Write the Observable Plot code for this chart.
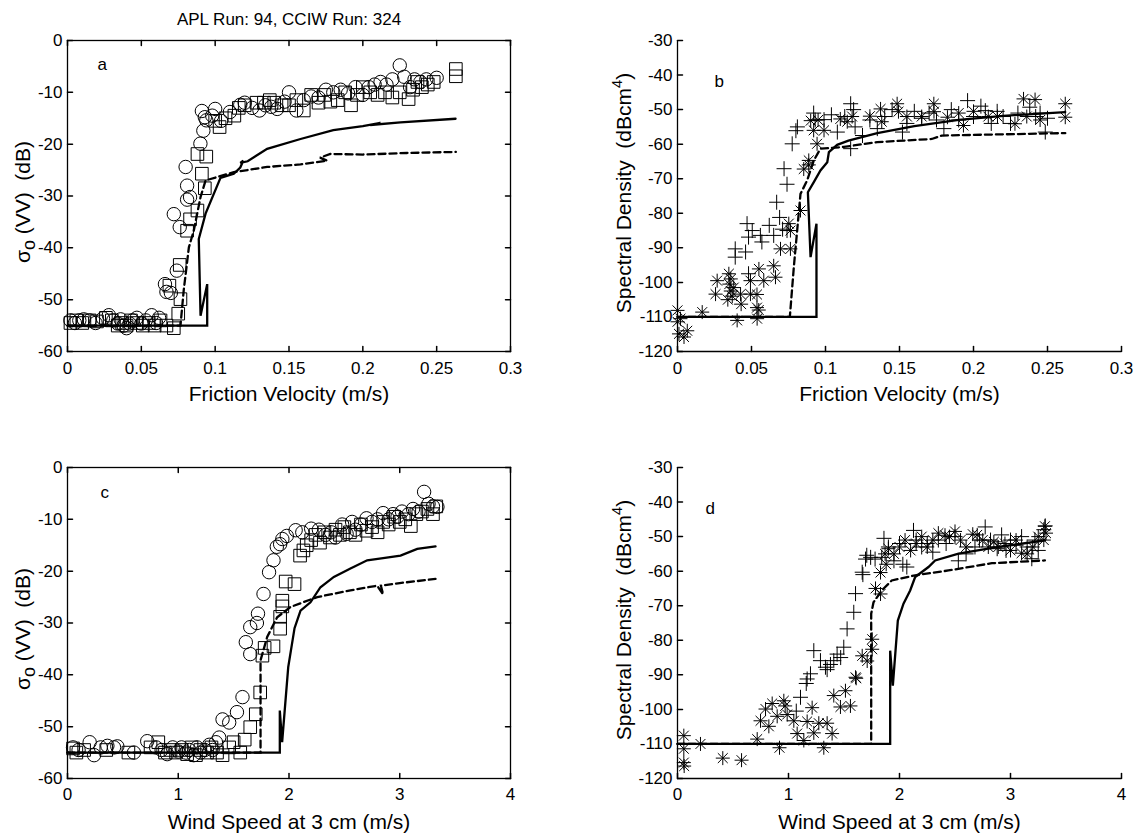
<!DOCTYPE html>
<html><head><meta charset="utf-8">
<script src="https://cdn.jsdelivr.net/npm/d3@7"></script>
<script src="https://cdn.jsdelivr.net/npm/@observablehq/plot@0.6"></script>
<style>
html,body{margin:0;padding:0;background:#fff;}
#wrap{position:relative;width:1148px;height:837px;overflow:hidden;background:#fff;}
#wrap svg{position:absolute;}
</style></head><body><div id="wrap"></div>
<script>
// ---------------- DATA ----------------
const titleText = "APL Run: 94, CCIW Run: 324";
const uTicks = [0, 0.05, 0.1, 0.15, 0.2, 0.25, 0.3];
const windTicks = [0, 1, 2, 3, 4];
const sigmaTicks = [-60, -50, -40, -30, -20, -10, 0];
const specTicks = [-120, -110, -100, -90, -80, -70, -60, -50, -40, -30];
const xLabelU = "Friction Velocity (m/s)";
const xLabelW = "Wind Speed at 3 cm (m/s)";
const yLabelSigma = "σo (VV)  (dB)";
const yLabelSpec = "Spectral Density  (dBcm4)";
const letters = ["a", "b", "c", "d"];
const letterX = [0.0203, 0.025, 0.298, 0.252];
const letterY = [-4.7, -42.0, -4.9, -42.0];

// panel a: sigma vs friction velocity
const aCircles = [[0.002,-54],[0.005,-54.5],[0.008,-54],[0.011,-53.8],[0.015,-54],[0.019,-54.5],[0.024,-53.6],[0.028,-53],[0.031,-54],[0.034,-54.6],[0.036,-53.8],[0.038,-55],[0.04,-55.5],[0.042,-54.6],[0.044,-54],[0.047,-53.5],[0.05,-54.6],[0.053,-54],[0.057,-53],[0.06,-54.5],[0.062,-53.5],
[0.066,-47],[0.067,-48.5],[0.07,-48.7],[0.074,-44.4],[0.072,-33.5],[0.076,-36],[0.08,-24.4],[0.081,-28],[0.081,-30.7],[0.083,-30.2],[0.09,-19.9],[0.092,-17.4],[0.093,-14.8],[0.091,-13.6],[0.094,-15.4],[0.1,-13.2],[0.098,-14.5],[0.104,-15.5],[0.11,-13.8],[0.117,-12.4],[0.12,-12],[0.125,-13],[0.13,-13.5],[0.134,-12.5],[0.138,-12.8],[0.142,-13.2],[0.147,-11.8],[0.15,-10],[0.155,-13.5],[0.16,-11.5],[0.165,-10.8],[0.17,-11],[0.175,-9.5],[0.18,-10],[0.185,-9.5],[0.19,-10.2],[0.195,-9],[0.2,-10.5],[0.204,-9],[0.208,-8.5],[0.212,-8],[0.216,-8.5],[0.22,-7.5],[0.225,-4.8],[0.228,-7],[0.232,-9],[0.235,-7.5],[0.239,-8],[0.243,-7.5],[0.25,-7.2]];
const aSquares = [[0.002,-54.5],[0.006,-54],[0.01,-54.5],[0.015,-54],[0.02,-54.2],[0.026,-53.5],[0.03,-54],[0.034,-55],[0.037,-54.5],[0.04,-55],[0.043,-54],[0.047,-54.5],[0.051,-55],[0.055,-54.5],[0.059,-55],[0.063,-54],[0.067,-55],[0.072,-55.5],
[0.069,-47.3],[0.075,-52.7],[0.0765,-49.9],[0.076,-43.3],[0.081,-36.7],[0.083,-34.5],[0.088,-32.8],[0.093,-28.5],[0.091,-25.7],[0.088,-21.9],[0.094,-22.4],[0.103,-16.7],[0.1,-15.5],[0.107,-15],
[0.113,-14.5],[0.116,-13],[0.12,-12.5],[0.128,-12],[0.133,-12],[0.137,-11.5],[0.14,-12],[0.145,-12.5],[0.15,-12.5],[0.155,-11.5],[0.16,-13.5],[0.165,-10.5],[0.17,-12],[0.174,-10.5],[0.178,-11.8],[0.183,-11.5],[0.188,-10],[0.192,-12.5],[0.196,-10.5],[0.2,-9],[0.205,-10],[0.21,-10.5],[0.215,-10],[0.22,-11],[0.225,-10],[0.231,-11.3],[0.234,-9.5],[0.237,-8],[0.24,-9],[0.244,-8.5],[0.248,-8],[0.263,-6.9],[0.263,-5.5]];
const aSolid = [[0,-55],[0.0946,-55],[0.0946,-47],[0.0901,-53.1],[0.0889,-38.3],[0.0935,-33.4],[0.1014,-28],[0.1036,-26.5],[0.1126,-25.7],[0.117,-24.5],[0.119,-23.2],[0.117,-23.6],[0.122,-23.3],[0.1352,-20.9],[0.1578,-19],[0.18,-17.3],[0.2,-16.5],[0.212,-15.9],[0.205,-16.3],[0.2255,-15.8],[0.2628,-15.1]];
const aDashed = [[0,-55],[0.0765,-55],[0.0787,-48.2],[0.0822,-39.9],[0.0855,-36.7],[0.0901,-30.2],[0.0935,-27],[0.1126,-25.4],[0.1352,-24.4],[0.1578,-23.9],[0.1758,-23.2],[0.171,-22.6],[0.178,-21.9],[0.2,-22],[0.23,-21.7],[0.263,-21.5]];

// panel b: spectral density vs friction velocity
const bPluses = [[0.039,-90.3],[0.039,-92.7],[0.046,-91.2],[0.047,-83],[0.048,-86.9],[0.0505,-85],[0.048,-97.5],[0.056,-86.4],[0.057,-88.3],[0.062,-83.5],[0.065,-86.4],[0.067,-76.8],[0.069,-81.2],[0.071,-84.6],[0.074,-85],[0.072,-67.1],[0.074,-71.6],[0.0775,-59.9],[0.08,-56.1],[0.081,-55],[0.092,-51],[0.093,-53],[0.099,-52.9],[0.104,-51.5],[0.108,-56.5],[0.113,-52],[0.117,-48.3],[0.119,-50],[0.117,-61.3],[0.12,-55],[0.125,-57.5],[0.13,-53],[0.135,-55.5],[0.14,-52],[0.145,-50],[0.152,-56.5],[0.155,-54],[0.16,-50.5],[0.165,-52.5],[0.17,-51],[0.175,-53],[0.18,-55.5],[0.185,-50],[0.19,-53],[0.196,-47.4],[0.2,-52],[0.205,-49],[0.208,-50.3],[0.212,-54],[0.216,-50.5],[0.22,-52],[0.225,-54],[0.23,-51],[0.238,-49.3],[0.242,-52],[0.2485,-56.5],[0.25,-52.5],[0.245,-51]];
const bStars = [[0,-108.1],[0,-111.4],[0.001,-114.9],[0.002,-110.5],[0.0044,-115.8],[0.0066,-114],[0.0167,-108.6],[0.0403,-111],[0.0538,-110.5],[0.0549,-108],
[0.0268,-99.5],[0.0257,-103.4],[0.0347,-97.5],[0.035,-100.5],[0.036,-102.5],[0.037,-104],[0.034,-105],[0.036,-99],[0.038,-101.5],[0.0426,-103.4],[0.043,-106.3],[0.0493,-99.5],[0.0493,-103.4],[0.0537,-103.5],[0.055,-96.1],[0.0583,-99.5],[0.0537,-107.3],[0.065,-95.2],[0.0662,-98.5],[0.0696,-90.3],[0.0763,-90.3],[0.0752,-83],[0.0763,-85],[0.0831,-79.2],[0.0853,-67.2],[0.0887,-64.7],[0.0887,-66],[0.0943,-59.9],[0.092,-56],[0.09,-53.2],[0.095,-53],[0.099,-56],
[0.11,-52.7],[0.1147,-53.5],[0.118,-52],[0.13,-51.9],[0.1372,-49.8],[0.1484,-48.3],[0.1493,-50.6],[0.155,-52],[0.138,-53.5],[0.165,-52],[0.1732,-48.3],[0.1733,-50.6],[0.1824,-52.2],[0.19,-51],[0.1932,-54.6],[0.2,-50.5],[0.21,-52],[0.2162,-52],[0.228,-54.1],[0.2338,-46.9],[0.2416,-47.1],[0.236,-52],[0.245,-53],[0.262,-48.3],[0.262,-52.2]];
const bSolid = [[0,-110],[0.0939,-110],[0.0939,-83],[0.0899,-92.7],[0.0881,-73.9],[0.0921,-71],[0.0966,-67.6],[0.1012,-65.2],[0.1023,-62.3],[0.1079,-60.2],[0.1155,-59],[0.135,-56.8],[0.16,-54.8],[0.19,-53],[0.22,-51.8],[0.262,-50.7]];
const bDashed = [[0,-110],[0.0759,-110],[0.0786,-95.6],[0.0831,-74.4],[0.0876,-70.5],[0.0921,-64.7],[0.0966,-61.3],[0.1124,-60.8],[0.1349,-59.4],[0.1718,-58.5],[0.1786,-57.5],[0.262,-56.8]];

// panel c: sigma vs wind speed
const cCircles = [[0.05,-54],[0.1,-54.5],[0.2,-53],[0.24,-55.5],[0.3,-54],[0.36,-53.7],[0.42,-54],[0.45,-53.8],[0.6,-55],[0.72,-52.8],[0.8,-54],[0.85,-54.5],[0.9,-55.3],[0.95,-54],[1.0,-54.8],[1.03,-54],[1.07,-55],[1.1,-54.5],[1.14,-55.5],[1.17,-54],[1.2,-55],[1.24,-54.5],[1.28,-53.5],[1.31,-54.5],[1.34,-53],
[1.37,-52.1],[1.4,-48.6],[1.46,-49.2],[1.53,-47.2],[1.58,-44.3],[1.61,-33.7],[1.65,-36],[1.65,-30.8],[1.71,-30],[1.72,-28.2],[1.77,-24.4],[1.82,-20.2],[1.86,-17.9],[1.89,-15.3],[1.94,-13.8],[1.92,-14.8],[1.98,-13.2],[2.06,-12.1],[2.12,-12.5],[2.2,-11.8],[2.27,-12],[2.33,-13],[2.38,-12.5],[2.42,-13.5],[2.48,-11],[2.52,-12.8],[2.57,-10.5],[2.6,-12],[2.65,-11],[2.7,-9.8],[2.75,-10.5],[2.8,-10],[2.85,-8.8],[2.9,-10],[2.94,-9],[2.98,-9.5],[3.02,-8.5],[3.08,-9],[3.12,-8],[3.17,-8.5],[3.22,-4.7],[3.26,-7],[3.3,-7.5],[3.34,-7.6]];
const cSquares = [[0.05,-54.2],[0.08,-55],[0.15,-54.5],[0.35,-54.5],[0.55,-55],[0.75,-54],[0.82,-53],[0.88,-55],[0.93,-54.5],[0.98,-55],[1.03,-54.5],[1.08,-55.3],[1.12,-54],[1.16,-55.5],[1.2,-54.5],[1.26,-55],[1.3,-54],[1.35,-55],[1.4,-55.5],[1.46,-54],[1.5,-53],[1.56,-55],[1.6,-52.5],
[1.65,-50.1],[1.7,-47.6],[1.74,-43.4],[1.76,-36.3],[1.78,-34.8],[1.86,-34.5],[1.92,-31.1],[1.92,-28.8],[1.94,-26.8],[1.94,-25.7],[1.97,-22],[2.05,-22.5],[2.1,-17],[2.13,-16],[2.16,-15],[2.2,-14],[2.24,-13],[2.28,-14.5],[2.32,-12.5],[2.37,-13.5],[2.42,-12],[2.46,-13],[2.5,-11.5],[2.55,-12.5],[2.6,-13],[2.65,-11],[2.7,-12.2],[2.75,-11.5],[2.8,-12.5],[2.85,-10.5],[2.9,-11],[2.95,-9.5],[3.0,-10.5],[3.05,-10],[3.1,-11.3],[3.15,-9],[3.2,-8.5],[3.25,-8],[3.3,-9],[3.33,-7.5]];
const cSolid = [[0,-55],[1.917,-55],[1.917,-46.9],[1.938,-53],[1.993,-38.5],[2.05,-31],[2.104,-27.6],[2.194,-26],[2.284,-23.1],[2.405,-21.1],[2.555,-19.5],[2.706,-17.9],[2.85,-17.5],[3.007,-17],[3.158,-15.7],[3.323,-15.2]];
const cDashed = [[0,-55],[1.743,-55],[1.743,-37.2],[1.803,-32.7],[1.893,-28.9],[2.014,-26.9],[2.255,-25],[2.555,-23.7],[2.796,-22.8],[2.85,-24.5],[2.83,-22.8],[3.0,-22.3],[3.323,-21.5]];

// panel d: spectral density vs wind speed
const dPluses = [[1.07,-100.5],[1.108,-96.5],[1.168,-91.2],[1.16,-92.5],[1.198,-89.7],[1.228,-83],[1.288,-85.9],[1.333,-87.8],[1.348,-88.5],[1.378,-87],[1.408,-85.9],[1.438,-84],[1.47,-85],[1.498,-82],[1.528,-76.7],[1.588,-71.9],[1.604,-66.5],[1.664,-60.3],[1.67,-61],[1.694,-56.5],[1.705,-55.4],[1.74,-56],[1.78,-56.5],[1.86,-50.5],[1.84,-56],[1.9,-53],[1.95,-57],[2.03,-58],[2.066,-58.8],[2.0,-52],[2.126,-48.2],[2.15,-51],[2.2,-53],[2.25,-52],[2.3,-54.5],[2.35,-51],[2.42,-52],[2.5,-50],[2.53,-57],[2.6,-55],[2.68,-53],[2.72,-51],[2.772,-47.2],[2.82,-51],[2.88,-53.5],[2.92,-49.5],[2.96,-54],[3.0,-51],[3.05,-52.5],[3.1,-50],[3.15,-53],[3.192,-56.4],[3.22,-51],[3.25,-54],[3.3,-48],[3.313,-46.9]];
const dStars = [[0.057,-107.6],[0.057,-111.4],[0.057,-115.4],[0.06,-116.4],[0.207,-110],[0.408,-114.1],[0.577,-114.7],[0.718,-108.6],[0.919,-111.1],[1.318,-111.1],
[0.748,-103.3],[0.793,-99.9],[0.823,-104.9],[0.853,-98.3],[0.898,-102],[0.958,-97.5],[0.97,-99],[0.988,-101.5],[1.048,-103.3],[1.078,-107],[1.138,-109],[1.168,-103.5],[1.213,-99.5],[1.228,-106.8],[1.273,-104],[1.348,-104],[1.393,-107],[1.408,-96],[1.468,-99.3],[1.513,-94.6],[1.558,-99],[1.604,-90.7],[1.61,-91],[1.664,-84.5],[1.709,-86],[1.754,-82.6],[1.754,-79.7],[1.784,-65],[1.829,-66.6],[1.829,-60.4],[1.87,-55],[1.88,-58],[1.9,-53.5],[1.95,-55],
[2.0,-53],[2.05,-51],[2.1,-54],[2.15,-52],[2.2,-50],[2.25,-53],[2.3,-51],[2.35,-49],[2.41,-49.6],[2.45,-50],[2.5,-48.5],[2.55,-51],[2.6,-53],[2.66,-49.3],[2.7,-49.5],[2.75,-51],[2.8,-53],[2.85,-51.5],[2.89,-53],[2.95,-52],[3.0,-54],[3.05,-51],[3.1,-54.8],[3.15,-55],[3.2,-53],[3.25,-50],[3.31,-47],[3.32,-49],[3.3,-51]];
const dSolid = [[0,-110],[1.916,-110],[1.916,-83],[1.94,-93.1],[1.985,-74.3],[2.036,-69.4],[2.096,-65.6],[2.141,-61.7],[2.261,-58.8],[2.321,-56.9],[2.532,-54.9],[2.892,-53],[3.31,-51.1]];
const dDashed = [[0,-110],[1.745,-110],[1.745,-72.3],[1.766,-69],[1.84,-65.6],[1.93,-62.7],[2.141,-61.2],[2.441,-59.8],[2.832,-57.7],[3.31,-56.9]];

// ---------------- STYLE / HELPERS ----------------
const FONT = "'Liberation Sans', Arial, Helvetica, sans-serif";
const TICK = 5;
const tickUp = {draw(c, l) { c.moveTo(0, 0); c.lineTo(0, -l); }};
const tickDown = {draw(c, l) { c.moveTo(0, 0); c.lineTo(0, l); }};
const tickRight = {draw(c, l) { c.moveTo(0, 0); c.lineTo(l, 0); }};
const tickLeft = {draw(c, l) { c.moveTo(0, 0); c.lineTo(-l, 0); }};
const symPlus = {draw(c, size) { const r = Math.sqrt(size / Math.PI); c.moveTo(-r, 0); c.lineTo(r, 0); c.moveTo(0, -r); c.lineTo(0, r); }};
const symStar = {draw(c, size) { const r = Math.sqrt(size / Math.PI); const d = r * Math.SQRT1_2;
  c.moveTo(-r, 0); c.lineTo(r, 0); c.moveTo(0, -r); c.lineTo(0, r);
  c.moveTo(-d, -d); c.lineTo(d, d); c.moveTo(-d, d); c.lineTo(d, -d); }};
const symSquare = {draw(c, size) { const r = Math.sqrt(size / Math.PI); c.rect(-r, -r, 2 * r, 2 * r); }};
const X = d => d[0], Y = d => d[1];

function makePanel(cfg) {
  const m = [];
  if (cfg.box) {
    m.push(Plot.frame({stroke: "black", strokeWidth: 1.3}));
  } else {
    m.push(Plot.ruleX([cfg.xDomain[0]], {stroke: "black", strokeWidth: 1.3}));
    m.push(Plot.ruleY([cfg.yDomain[0]], {stroke: "black", strokeWidth: 1.3}));
  }
  // inward ticks
  m.push(Plot.vectorX(cfg.xTicks, {x: d => d, frameAnchor: "bottom", anchor: "start", length: TICK, shape: tickUp, stroke: "black"}));
  m.push(Plot.vectorY(cfg.yTicks, {y: d => d, frameAnchor: "left", anchor: "start", length: TICK, shape: tickRight, stroke: "black"}));
  if (cfg.box) {
    m.push(Plot.vectorX(cfg.xTicks, {x: d => d, frameAnchor: "top", anchor: "start", length: TICK, shape: tickDown, stroke: "black"}));
    m.push(Plot.vectorY(cfg.yTicks, {y: d => d, frameAnchor: "right", anchor: "start", length: TICK, shape: tickLeft, stroke: "black"}));
  }
  // tick labels
  m.push(Plot.axisX(cfg.xTicks, {anchor: "bottom", tickSize: 0, tickPadding: cfg.xPad, tickFormat: d => String(d), fontSize: 17, label: null}));
  m.push(Plot.axisY(cfg.yTicks, {anchor: "left", tickSize: 0, tickPadding: 5, tickFormat: d => String(d), fontSize: 17, label: null}));
  // data
  for (const s of cfg.series) {
    if (s.kind === "line") {
      m.push(Plot.line(s.data, {x: X, y: Y, stroke: "black", strokeWidth: 2.3, strokeDasharray: s.dash || null, strokeLinejoin: "miter", strokeMiterlimit: 2}));
    } else {
      m.push(Plot.dot(s.data, {x: X, y: Y, r: s.r, symbol: s.symbol, stroke: "black", fill: "none", strokeWidth: s.sw || 1}));
    }
  }
  // panel letter
  m.push(Plot.text([cfg.letter], {x: cfg.lx, y: cfg.ly, text: d => d, textAnchor: "start", lineAnchor: "middle", fontSize: 17}));
  // axis labels
  m.push(Plot.text([cfg.xLabel], {frameAnchor: "bottom", dy: cfg.xLabelDy, text: d => d, textAnchor: "middle", lineAnchor: "middle", fontSize: 21}));
  m.push(Plot.text([cfg.yLabel], {frameAnchor: "left", rotate: -90, dx: cfg.yLabelDx, dy: cfg.yLabelDy, text: d => d, textAnchor: "middle", lineAnchor: "middle", fontSize: 21}));
  if (cfg.title) m.push(Plot.text([cfg.title], {frameAnchor: "top", dy: -21.4, text: d => d, textAnchor: "middle", lineAnchor: "middle", fontSize: 17}));

  const svg = Plot.plot({
    width: cfg.width, height: cfg.height,
    marginLeft: cfg.ml, marginRight: cfg.mr, marginTop: cfg.mt, marginBottom: cfg.mb,
    x: {domain: cfg.xDomain},
    y: {domain: cfg.yDomain},
    style: {fontFamily: FONT, fontSize: "17px", color: "black", background: "transparent", overflow: "visible"},
    marks: m
  });
  svg.style.left = cfg.left + "px";
  svg.style.top = cfg.top + "px";
  return svg;
}

function richText(svg, plain, html) {
  d3.select(svg).selectAll("text")
    .filter(function() { return this.textContent === plain; })
    .style("white-space", "pre")
    .html(html);
}

const wrap = document.getElementById("wrap");
const topRow = {top: 0, height: 418, mt: 40, mb: 67, xPad: 10, xLabelDy: 43};
const botRow = {top: 418, height: 419, mt: 49, mb: 59, xPad: 9, xLabelDy: 43.5};
const leftCol = {left: 0, width: 574, ml: 67, mr: 64, box: true, yLabelDx: -44.7};
const rightCol = {left: 574, width: 574, ml: 103, mr: 27, box: false, yLabelDx: -53.7};

const panels = [
  {...topRow, ...leftCol, xDomain: [0, 0.3], yDomain: [-60, 0], xTicks: uTicks, yTicks: sigmaTicks,
   xLabel: xLabelU, yLabel: yLabelSigma, yLabelDy: 6, letter: letters[0], lx: letterX[0], ly: letterY[0], title: titleText,
   series: [{kind: "dot", data: aCircles, r: 6.7}, {kind: "dot", data: aSquares, r: 6.3, symbol: symSquare},
            {kind: "line", data: aSolid}, {kind: "line", data: aDashed, dash: "7,4"}]},
  {...topRow, ...rightCol, xDomain: [0, 0.3], yDomain: [-120, -30], xTicks: uTicks, yTicks: specTicks,
   xLabel: xLabelU, yLabel: yLabelSpec, yLabelDy: -3, letter: letters[1], lx: letterX[1], ly: letterY[1],
   series: [{kind: "dot", data: bPluses, r: 7.5, symbol: symPlus}, {kind: "dot", data: bStars, r: 7, symbol: symStar},
            {kind: "line", data: bSolid}, {kind: "line", data: bDashed, dash: "7,4"}]},
  {...botRow, ...leftCol, xDomain: [0, 4], yDomain: [-60, 0], xTicks: windTicks, yTicks: sigmaTicks,
   xLabel: xLabelW, yLabel: yLabelSigma, yLabelDy: 6, letter: letters[2], lx: letterX[2], ly: letterY[2],
   series: [{kind: "dot", data: cCircles, r: 6.7}, {kind: "dot", data: cSquares, r: 6.3, symbol: symSquare},
            {kind: "line", data: cSolid}, {kind: "line", data: cDashed, dash: "7,4"}]},
  {...botRow, ...rightCol, xDomain: [0, 4], yDomain: [-120, -30], xTicks: windTicks, yTicks: specTicks,
   xLabel: xLabelW, yLabel: yLabelSpec, yLabelDy: -3, letter: letters[3], lx: letterX[3], ly: letterY[3],
   series: [{kind: "dot", data: dPluses, r: 7.5, symbol: symPlus}, {kind: "dot", data: dStars, r: 7, symbol: symStar},
            {kind: "line", data: dSolid}, {kind: "line", data: dDashed, dash: "7,4"}]}
];

for (const p of panels) {
  const svg = makePanel(p);
  richText(svg, yLabelSigma, 'σ<tspan font-size="85%" dy="5">o</tspan><tspan dy="-5"> (VV)  (dB)</tspan>');
  richText(svg, yLabelSpec, 'Spectral Density  (dBcm<tspan font-size="70%" dy="-9">4</tspan><tspan dy="9">)</tspan>');
  wrap.appendChild(svg);
}
</script>
</body></html>
